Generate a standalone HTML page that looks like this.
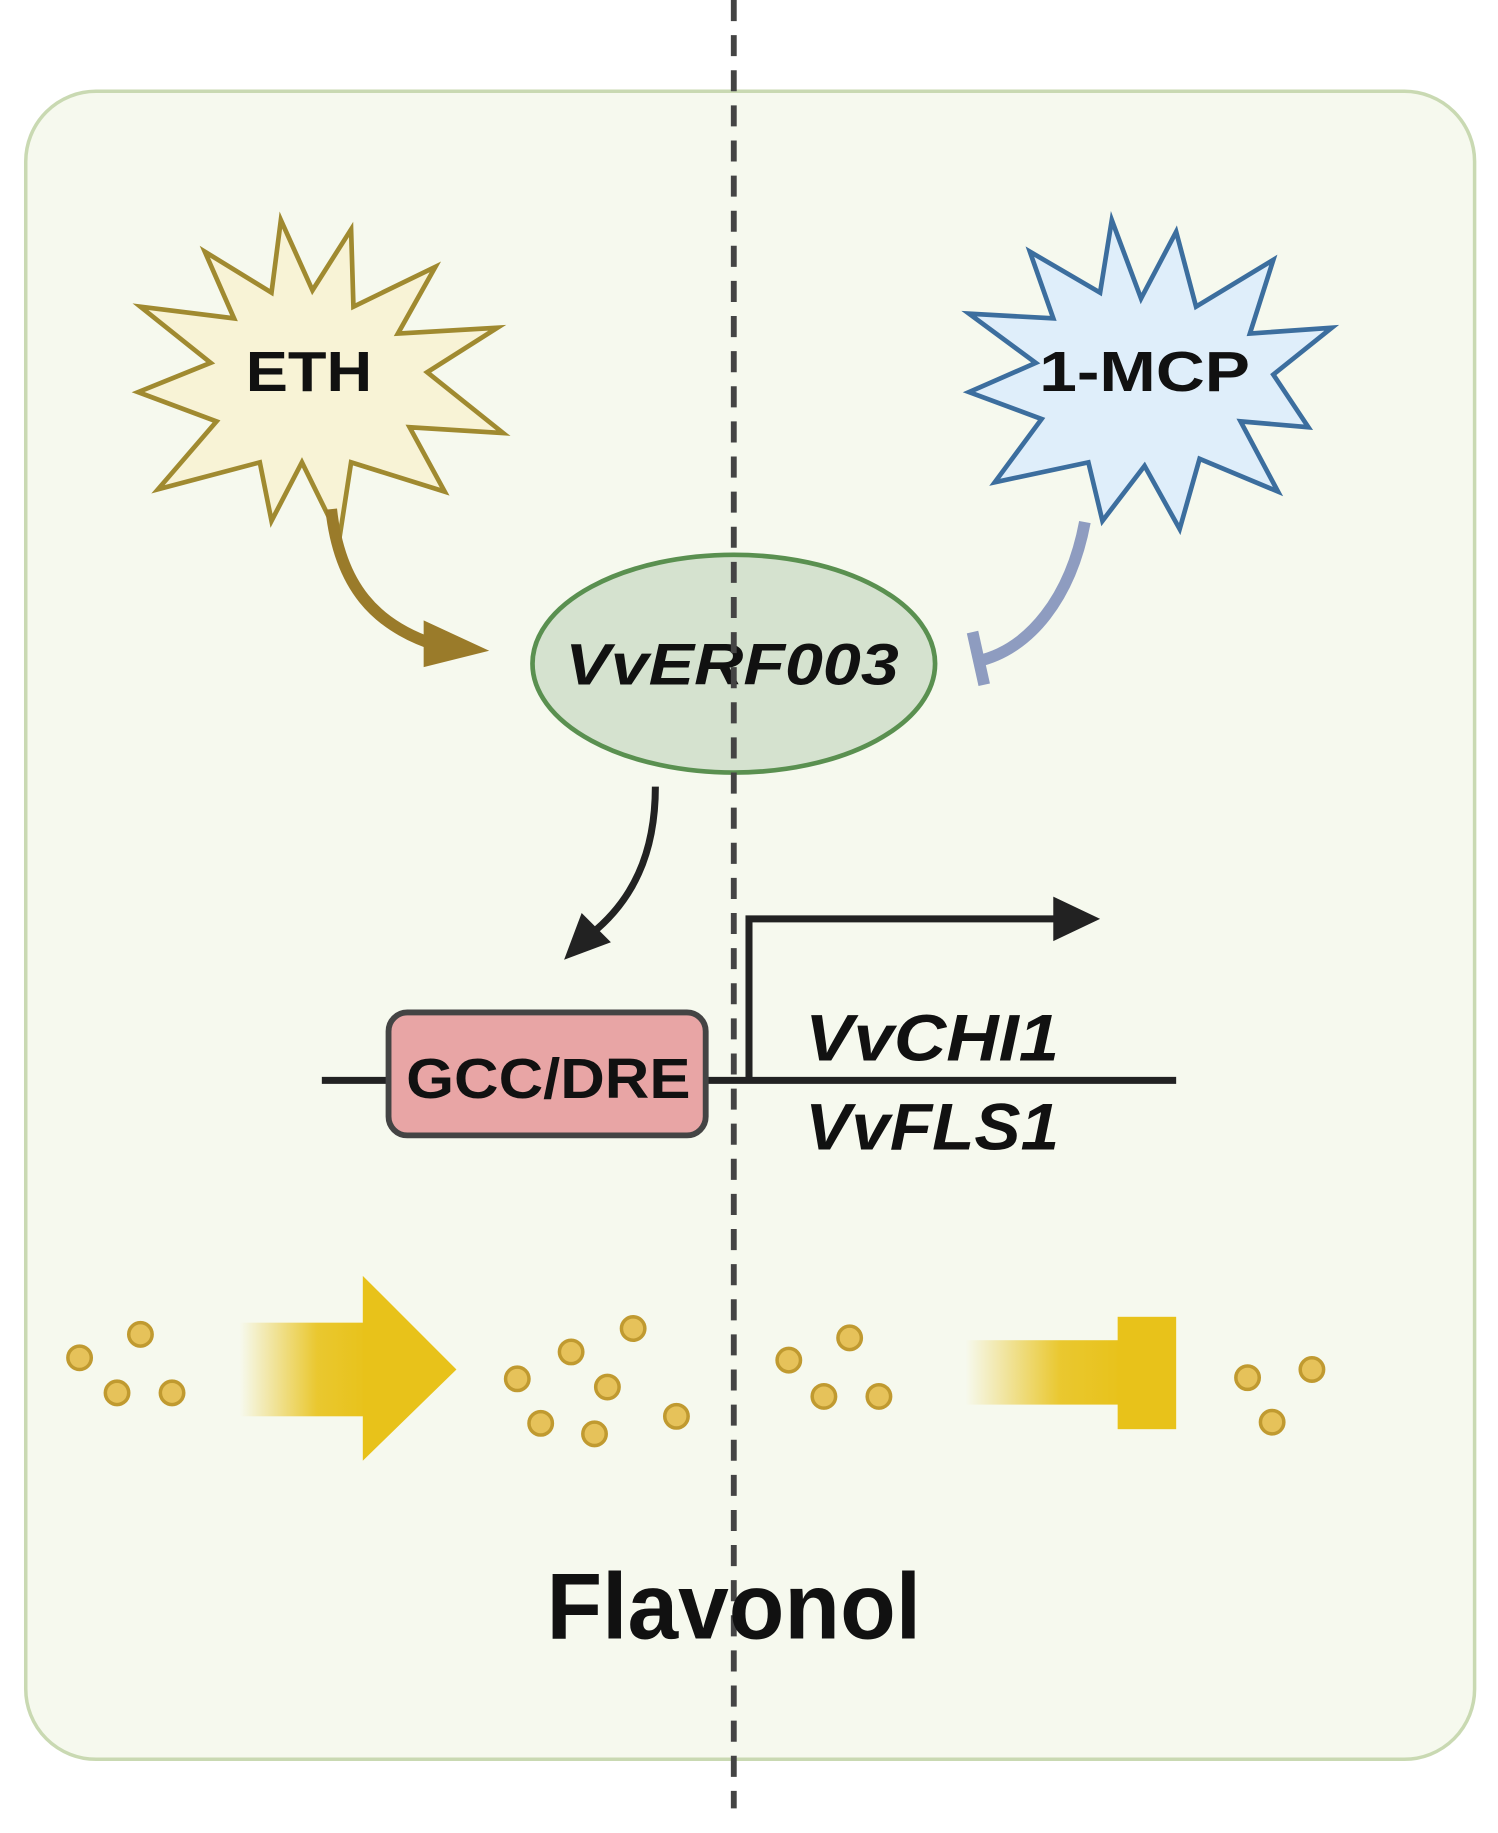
<!DOCTYPE html>
<html><head><meta charset="utf-8"><style>html,body{margin:0;padding:0;background:#fff}svg{display:block}</style></head>
<body>
<svg width="1498" height="1833" viewBox="0 0 1280 1566" preserveAspectRatio="none" xmlns="http://www.w3.org/2000/svg">
<defs>
<linearGradient id="g1" x1="0" x2="1" y1="0" y2="0"><stop offset="0" stop-color="#e8c21a" stop-opacity="0"/><stop offset="0.6" stop-color="#e8c21a" stop-opacity="0.9"/><stop offset="1" stop-color="#e8c21a"/></linearGradient>
</defs>
<rect x="22" y="78" width="1238" height="1425" rx="60" fill="#f6f9ee" stroke="#c9d9b2" stroke-width="3"/>
<polygon points="240,188 267,248 300,196 302,262 372,228 340,285 425,280 365,318 430,370 350,365 380,420 300,395 290,460 258,395 232,445 222,395 135,418 185,360 118,335 180,310 120,262 200,272 175,215 232,250" fill="#f8f3d6" stroke="#a08a30" stroke-width="4"/>
<text x="210" y="334" textLength="108" lengthAdjust="spacingAndGlyphs" font-family="Liberation Sans, sans-serif" font-weight="bold" font-size="48" fill="#111">ETH</text>
<polygon points="950,188 975,255 1005,198 1022,262 1088,222 1068,285 1138,280 1088,320 1118,365 1060,360 1092,420 1025,392 1008,452 978,398 942,445 930,395 850,412 890,358 828,335 885,310 828,268 900,272 880,215 940,250" fill="#dfeefa" stroke="#3c6e9e" stroke-width="4"/>
<text x="888" y="334" textLength="180" lengthAdjust="spacingAndGlyphs" font-family="Liberation Sans, sans-serif" font-weight="bold" font-size="48" fill="#111">1-MCP</text>
<path d="M283,435 C290,500 320,535 375,552" fill="none" stroke="#9a7b2a" stroke-width="10"/>
<polygon points="362,530 418,556 362,570" fill="#9a7b2a"/>
<path d="M927,446 C915,510 880,555 835,565" fill="none" stroke="#8e9cc0" stroke-width="10"/>
<line x1="831" y1="540" x2="841" y2="585" stroke="#8e9cc0" stroke-width="10"/>
<ellipse cx="627" cy="567" rx="172" ry="93" fill="#d5e2cf" stroke="#5a9050" stroke-width="4"/>
<text x="483" y="585" textLength="285" lengthAdjust="spacingAndGlyphs" font-family="Liberation Sans, sans-serif" font-weight="bold" font-style="italic" font-size="50" fill="#111">VvERF003</text>
<path d="M560,672 C560,730 540,770 505,798" fill="none" stroke="#222" stroke-width="6"/>
<polygon points="482,820 497,780 522,805" fill="#222"/>
<line x1="627" y1="0" x2="627" y2="1545" stroke="#444" stroke-width="5" stroke-dasharray="18 12"/>
<line x1="275" y1="923" x2="1005" y2="923" stroke="#222" stroke-width="6"/>
<rect x="332" y="865" width="271" height="105" rx="16" fill="#e8a5a5" stroke="#444" stroke-width="5"/>
<text x="347" y="938" textLength="243" lengthAdjust="spacingAndGlyphs" font-family="Liberation Sans, sans-serif" font-weight="bold" font-size="48" fill="#111">GCC/DRE</text>
<polyline points="640,923 640,785 905,785" fill="none" stroke="#222" stroke-width="6"/>
<polygon points="900,766 940,785 900,804" fill="#222"/>
<text x="688" y="906" textLength="217" lengthAdjust="spacingAndGlyphs" font-family="Liberation Sans, sans-serif" font-weight="bold" font-style="italic" font-size="56" fill="#111">VvCHI1</text>
<text x="688" y="982" textLength="217" lengthAdjust="spacingAndGlyphs" font-family="Liberation Sans, sans-serif" font-weight="bold" font-style="italic" font-size="56" fill="#111">VvFLS1</text>
<rect x="205" y="1130" width="110" height="80" fill="url(#g1)"/>
<polygon points="310,1090 390,1170 310,1248" fill="#e8c21a"/>
<rect x="825" y="1145" width="135" height="55" fill="url(#g1)"/>
<rect x="955" y="1125" width="50" height="96" fill="#e8c21a"/>
<g fill="#e6c25a" stroke="#c09a30" stroke-width="3">
<circle cx="68" cy="1160" r="10"/><circle cx="120" cy="1140" r="10"/><circle cx="100" cy="1190" r="10"/><circle cx="147" cy="1190" r="10"/>
<circle cx="442" cy="1178" r="10"/><circle cx="488" cy="1155" r="10"/><circle cx="541" cy="1135" r="10"/><circle cx="519" cy="1185" r="10"/><circle cx="462" cy="1216" r="10"/><circle cx="508" cy="1225" r="10"/><circle cx="578" cy="1210" r="10"/>
<circle cx="674" cy="1162" r="10"/><circle cx="726" cy="1143" r="10"/><circle cx="704" cy="1193" r="10"/><circle cx="751" cy="1193" r="10"/>
<circle cx="1066" cy="1177" r="10"/><circle cx="1121" cy="1170" r="10"/><circle cx="1087" cy="1215" r="10"/>
</g>
<text x="467" y="1400" textLength="320" lengthAdjust="spacingAndGlyphs" font-family="Liberation Sans, sans-serif" font-weight="bold" font-size="80" fill="#111">Flavonol</text>
</svg>
</body></html>
